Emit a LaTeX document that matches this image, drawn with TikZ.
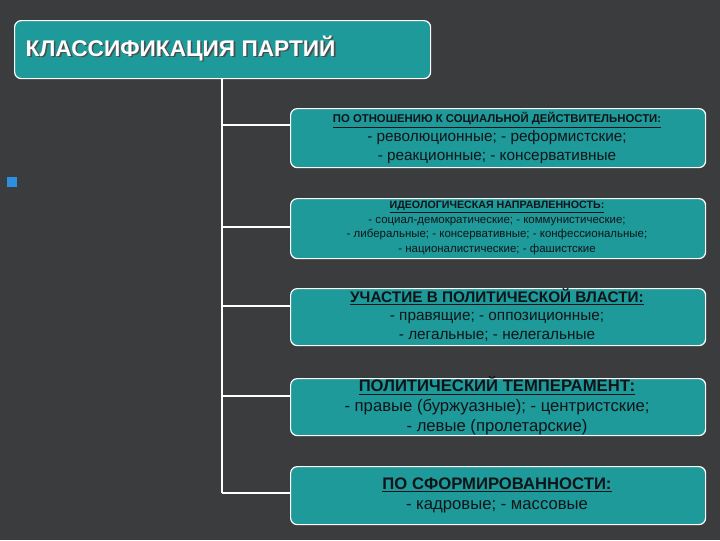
\documentclass[tikz,border=0pt]{standalone}
\usepackage{fontspec}
\setmainfont{Liberation Sans}
\definecolor{bg}{HTML}{3B3C3E}
\definecolor{teal}{HTML}{1E9A9A}
\definecolor{ink}{HTML}{101418}
\definecolor{bul}{HTML}{2E8FE0}
\begin{document}
\begin{tikzpicture}[x=0.75pt,y=-0.75pt,
  box/.style={draw=white,line width=0.9pt,fill=teal,rounded corners=5pt,text=ink,align=center,inner sep=0pt},
  conn/.style={draw=white,line width=1.2pt}]
\fill[bg] (0,0) rectangle (720,540);
\useasboundingbox (0,0) rectangle (720,540);
\node[box,minimum width=416*0.75pt,minimum height=58*0.75pt,anchor=north west] (title) at (14,20) {};
\node[text=black!70,font=\bfseries\fontsize{17}{19}\selectfont,anchor=west] at ([xshift=1.2pt,yshift=-1.2pt]21,48) {КЛАССИФИКАЦИЯ ПАРТИЙ};
\node[text=white,font=\bfseries\fontsize{17}{19}\selectfont,anchor=west] (tt) at (21,48) {КЛАССИФИКАЦИЯ ПАРТИЙ};
\node[box,minimum width=415*0.75pt,minimum height=59*0.75pt,anchor=north west] (b1) at (290,108) {};
\node[box,minimum width=415*0.75pt,minimum height=60*0.75pt,anchor=north west] (b2) at (290,198) {};
\node[box,minimum width=415*0.75pt,minimum height=57*0.75pt,anchor=north west] (b3) at (290,288) {};
\node[box,minimum width=415*0.75pt,minimum height=57*0.75pt,anchor=north west] (b4) at (290,378) {};
\node[box,minimum width=415*0.75pt,minimum height=58*0.75pt,anchor=north west] (b5) at (290,466) {};
\node[text=ink,align=center,font=\fontsize{11.5}{14}\selectfont] (t1) at (497,138) {\textbf{\underline{\fontsize{8.5}{10}\selectfont ПО ОТНОШЕНИЮ К СОЦИАЛЬНОЙ ДЕЙСТВИТЕЛЬНОСТИ:}}\\- революционные; - реформистские;\\- реакционные; - консервативные};
\node[text=ink,align=center,font=\fontsize{8.6}{11}\selectfont] (t2) at (497,228) {\textbf{\underline{\fontsize{8}{10}\selectfont ИДЕОЛОГИЧЕСКАЯ НАПРАВЛЕННОСТЬ:}}\\- социал-демократические; - коммунистические;\\- либеральные; - консервативные; - конфессиональные;\\- националистические; - фашистские};
\node[text=ink,align=center,font=\fontsize{11.5}{14}\selectfont] (t3) at (497,315) {\textbf{\underline{УЧАСТИЕ В ПОЛИТИЧЕСКОЙ ВЛАСТИ:}}\\- правящие; - оппозиционные;\\- легальные; - нелегальные};
\node[text=ink,align=center,font=\fontsize{12.5}{15}\selectfont] (t4) at (497,406) {\textbf{\underline{ПОЛИТИЧЕСКИЙ ТЕМПЕРАМЕНТ:}}\\- правые (буржуазные); - центристские;\\- левые (пролетарские)};
\node[text=ink,align=center,font=\fontsize{12.5}{15}\selectfont] (t5) at (497,495) {\textbf{\underline{ПО СФОРМИРОВАННОСТИ:}}\\- кадровые; - массовые};
\coordinate (top) at (222,78);
\coordinate (bot) at (222,493);
\draw[conn] (top) -- (bot);
\coordinate (j1) at (222,125); \coordinate (j2) at (222,227); \coordinate (j3) at (222,306); \coordinate (j4) at (222,396);
\draw[conn] (j1) -- (j1 -| b1.west);
\draw[conn] (j2) -- (j2 -| b2.west);
\draw[conn] (j3) -- (j3 -| b3.west);
\draw[conn] (j4) -- (j4 -| b4.west);
\draw[conn] (bot) -- (bot -| b5.west);
\node[fill=bul,minimum size=7.5pt,inner sep=0pt] (bl) at (12,182) {};
\end{tikzpicture}
\end{document}
